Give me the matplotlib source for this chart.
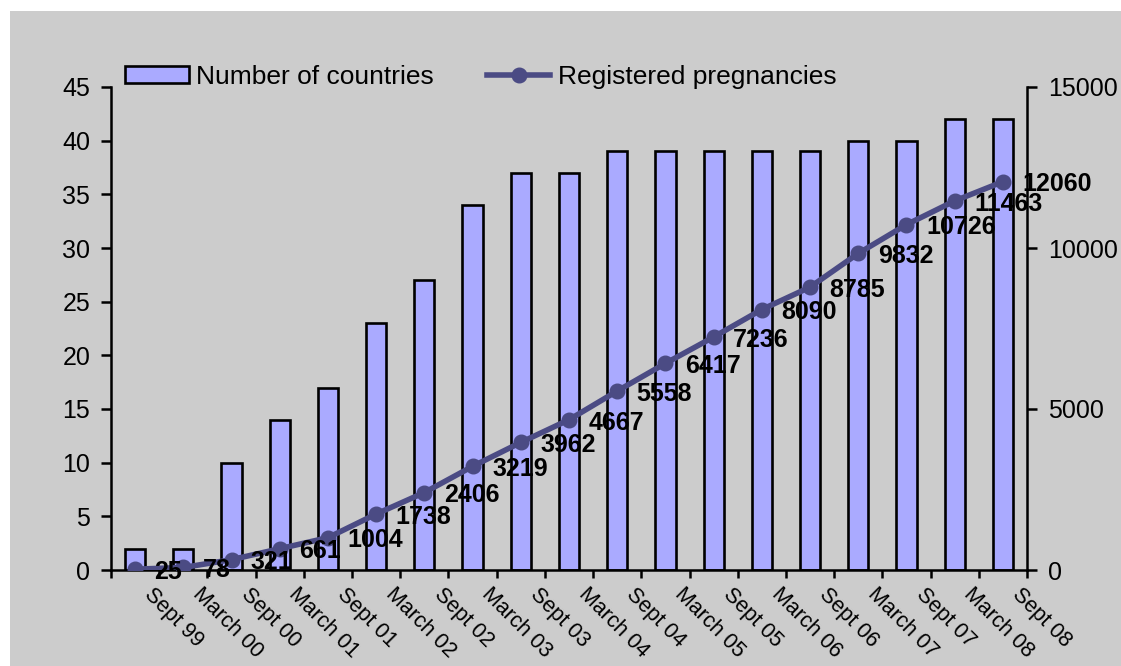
import numpy as np
import matplotlib.pyplot as plt
import matplotlib.transforms as mtransforms
from matplotlib.patches import Rectangle

plt.rcParams['font.family'] = ['Liberation Sans', 'DejaVu Sans']

# data
periods = ['Sept 99', 'March 00', 'Sept 00', 'March 01', 'Sept 01', 'March 02',
           'Sept 02', 'March 03', 'Sept 03', 'March 04', 'Sept 04', 'March 05',
           'Sept 05', 'March 06', 'Sept 06', 'March 07', 'Sept 07', 'March 08',
           'Sept 08']
countries = [2, 2, 10, 14, 17, 23, 27, 34, 37, 37, 39, 39, 39, 39, 39, 40, 40, 42, 42]
pregnancies = [25, 78, 321, 661, 1004, 1738, 2406, 3219, 3962, 4667, 5558, 6417,
               7236, 8090, 8785, 9832, 10726, 11463, 12060]

bg = '#cccccc'
bar_col = '#aaaaff'
line_col = '#4b4b84'
fs = 18

fig = plt.figure(figsize=(11.21, 6.66), dpi=100)
fig.patch.set_facecolor('white')
# grey chart area with a thin white margin on top/left
fig.patches.append(Rectangle((10 / 1121, 0), 1, 1 - 11 / 666, transform=fig.transFigure,
                             facecolor=bg, edgecolor='none', zorder=-10))

ax = fig.add_axes([111 / 1121, 1 - 570 / 666, 916 / 1121, (570 - 87) / 666])
ax.set_facecolor('none')
x = np.arange(len(periods))

bars = ax.bar(x, countries, width=0.42, color=bar_col, edgecolor='black', linewidth=1.9,
              label='Number of countries')
ax.set_xlim(-0.5, len(periods) - 0.5)
ax.set_ylim(0, 45)
ax.set_yticks(np.arange(0, 46, 5))

ax2 = ax.twinx()
line, = ax2.plot(x, pregnancies, color=line_col, lw=4, marker='o', markersize=10.5,
                 label='Registered pregnancies')
ax2.set_ylim(0, 15000)
ax2.set_yticks([0, 5000, 10000, 15000])

for xi, v in zip(x, pregnancies):
    ax2.annotate(str(v), (xi, v), xytext=(14, -2), textcoords='offset points',
                 ha='left', va='center', fontsize=fs, fontweight='bold', color='black')

# ticks on category boundaries, labels rotated
ax.set_xticks(np.arange(len(periods) + 1) - 0.5)
ax.set_xticklabels([])
ax.set_xticks(x, minor=True)
ax.set_xticklabels(periods, minor=True, rotation=-45, ha='left', va='top',
                   rotation_mode='anchor', fontsize=15.5)
ax.tick_params(axis='x', which='minor', length=0, pad=10)
ax.tick_params(axis='x', which='major', length=6, width=1.8, direction='out')
offset = mtransforms.ScaledTranslation(20 / 100, 0, fig.dpi_scale_trans)
for lab in ax.get_xticklabels(minor=True):
    lab.set_transform(lab.get_transform() + offset)

ax.tick_params(axis='y', length=7, width=1.8, labelsize=fs, pad=8)
ax2.tick_params(axis='y', length=7, width=1.8, labelsize=fs, pad=8)

for a in (ax, ax2):
    a.spines['top'].set_visible(False)
    for s in ('left', 'right', 'bottom'):
        a.spines[s].set_linewidth(1.8)
ax.spines['right'].set_visible(False)
ax2.spines['left'].set_visible(False)
ax2.spines['bottom'].set_visible(False)

fig.legend([bars, line], ['Number of countries', 'Registered pregnancies'],
           loc='center left', bbox_to_anchor=(112 / 1121, 1 - 77 / 666), ncol=2,
           frameon=False, fontsize=19, borderpad=0, handlelength=2.4,
           handleheight=0.6, handletextpad=0.3, columnspacing=2.0)

fig.savefig('out.png', dpi=100)
